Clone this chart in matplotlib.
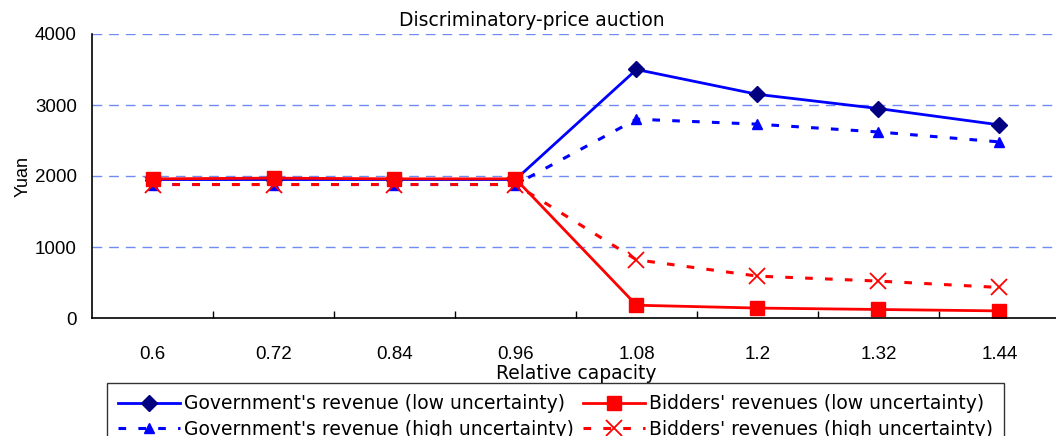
import matplotlib
matplotlib.use("Agg")
import matplotlib.pyplot as plt
from matplotlib.ticker import FixedLocator

plt.rcParams['font.family'] = ['Liberation Sans', 'DejaVu Sans']

# relative capacity categories
capacity = ['0.6', '0.72', '0.84', '0.96', '1.08', '1.2', '1.32', '1.44']

# revenues in yuan
gov_low = [1950, 1950, 1950, 1950, 3500, 3150, 2950, 2720]
gov_high = [1880, 1880, 1880, 1880, 2800, 2730, 2620, 2480]
bid_low = [1960, 1970, 1960, 1960, 180, 140, 120, 100]
bid_high = [1880, 1880, 1880, 1880, 820, 590, 520, 430]

fig = plt.figure(figsize=(10.56, 4.36), dpi=100)
ax = fig.add_axes([92 / 1056, 118 / 436, 968 / 1056, 284 / 436])

x = list(range(len(capacity)))

ax.plot(x, gov_low, color='#0000ff', lw=2, marker='D', markersize=8,
        markerfacecolor='#000080', markeredgecolor='#000080',
        label="Government's revenue (low uncertainty)")
ax.plot(x, gov_high, color='#0000ff', lw=2.2, ls=(0, (2.5, 4)), marker='^',
        markersize=7, markerfacecolor='#0000ff', markeredgecolor='#0000ff',
        label="Government's revenue (high uncertainty)")
ax.plot(x, bid_low, color='#ff0000', lw=2, marker='s', markersize=10,
        markerfacecolor='#ff0000', markeredgecolor='#ff0000',
        label="Bidders' revenues (low uncertainty)")
ax.plot(x, bid_high, color='#ff0000', lw=2.2, ls=(0, (2.5, 4)), marker='x',
        markersize=11, markeredgewidth=1.3,
        label="Bidders' revenues (high uncertainty)")

ax.set_xlim(-0.5, len(capacity) - 0.5)
ax.set_ylim(0, 4000)
ax.set_yticks([0, 1000, 2000, 3000, 4000])
ax.set_xticks(x)
ax.set_xticklabels(capacity)
ax.xaxis.set_minor_locator(FixedLocator([i + 0.5 for i in x[:-1]]))
ax.tick_params(axis='x', which='major', length=0, pad=20, labelsize=13.5)
ax.tick_params(axis='x', which='minor', direction='in', length=5, width=1)
ax.tick_params(axis='y', length=0, pad=11, labelsize=13.5)

for v in [1000, 2000, 3000, 4000]:
    ax.axhline(v, color='#6f8cf5', lw=1, ls=(0, (7, 5)), zorder=0)

ax.spines['top'].set_visible(False)
ax.spines['right'].set_visible(False)
ax.spines['left'].set_linewidth(1.2)
ax.spines['bottom'].set_linewidth(1.2)

fig.text(532 / 1056, 1 - 20 / 436, 'Discriminatory-price auction',
         ha='center', va='center', fontsize=13.5, family='DejaVu Sans')
ax.set_xlabel('Relative capacity', fontsize=13.5, labelpad=1,
              family='DejaVu Sans')
ax.set_ylabel('Yuan', fontsize=13, labelpad=2)

handles, labels = ax.get_legend_handles_labels()
leg = fig.legend(handles, labels, ncol=2, loc='upper left',
                 bbox_to_anchor=(107 / 1056, 1 - 383 / 436),
                 borderaxespad=0, prop={'family': 'DejaVu Sans', 'size': 13.5},
                 handlelength=3.3, handletextpad=0.2,
                 columnspacing=0.5, borderpad=0.6, labelspacing=0.35,
                 fancybox=False, framealpha=1, edgecolor='#333333')
leg.get_frame().set_linewidth(1)

fig.savefig('out.png', dpi=100)
